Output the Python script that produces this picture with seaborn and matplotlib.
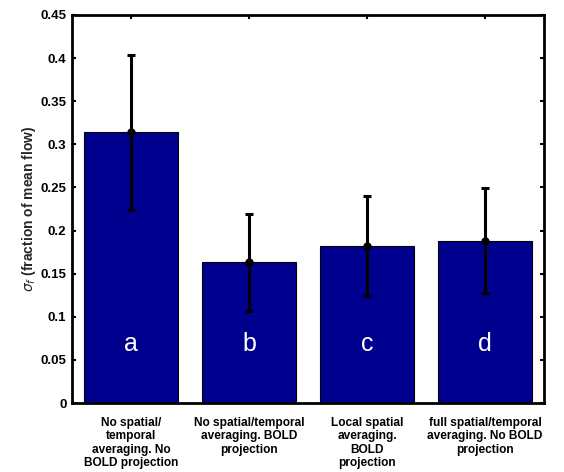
import matplotlib
matplotlib.use("Agg")
import matplotlib.pyplot as plt
import seaborn as sns
import pandas as pd
import numpy as np

categories = ["No spatial/\ntemporal\naveraging. No\nBOLD projection",
              "No spatial/temporal\naveraging. BOLD\nprojection",
              "Local spatial\naveraging.\nBOLD\nprojection",
              "full spatial/temporal\naveraging. No BOLD\nprojection"]
values = [0.314, 0.163, 0.182, 0.188]
errors = [0.090, 0.056, 0.058, 0.061]
letters = ["a", "b", "c", "d"]

sns.set_theme(style="white")
plt.rcParams['font.family'] = ['Liberation Sans', 'DejaVu Sans']

df = pd.DataFrame({"cat": categories, "val": values})

fig = plt.figure(figsize=(5.64, 4.72), dpi=100)
ax = fig.add_axes([72/564, 1-403/472, (544-72)/564, (403-15)/472])

sns.barplot(data=df, x="cat", y="val", color="#00008E", saturation=1,
            width=0.8, edgecolor="black", linewidth=0.8, ax=ax)
xs = np.arange(len(categories))
ax.errorbar(xs, values, yerr=errors, fmt='o', color='black', ecolor='black',
            elinewidth=2.2, capsize=3, capthick=2.2, markersize=5)
for x, l in zip(xs, letters):
    ax.text(x, 0.06, l, color='white', fontsize=18, ha='center', va='baseline')

ax.set_xlim(-0.5, len(categories) - 0.5)
ax.set_ylim(0, 0.45)
ax.set_yticks(np.arange(0, 0.451, 0.05))
ax.set_yticklabels(["0", "0.05", "0.1", "0.15", "0.2", "0.25", "0.3", "0.35", "0.4", "0.45"],
                   fontweight='bold', fontsize=9.5)
ax.set_xticks(xs)
ax.set_xticklabels(categories, fontweight='bold', fontsize=8.6, linespacing=1.15)
ax.tick_params(axis='both', direction='in', length=3, width=1.5, top=True, right=True,
               left=True, bottom=True, pad=4, colors='black')
ax.tick_params(axis='x', pad=10)
for s in ax.spines.values():
    s.set_visible(True)
    s.set_color('black')
    s.set_linewidth(2.0)
ax.set_xlabel("")
ax.set_ylabel(r"$\sigma_f$" + " (fraction of mean flow)", fontweight='bold', fontsize=10, labelpad=2)
ax.grid(False)
ax.set_facecolor('white')
fig.savefig("out.png", dpi=100)
